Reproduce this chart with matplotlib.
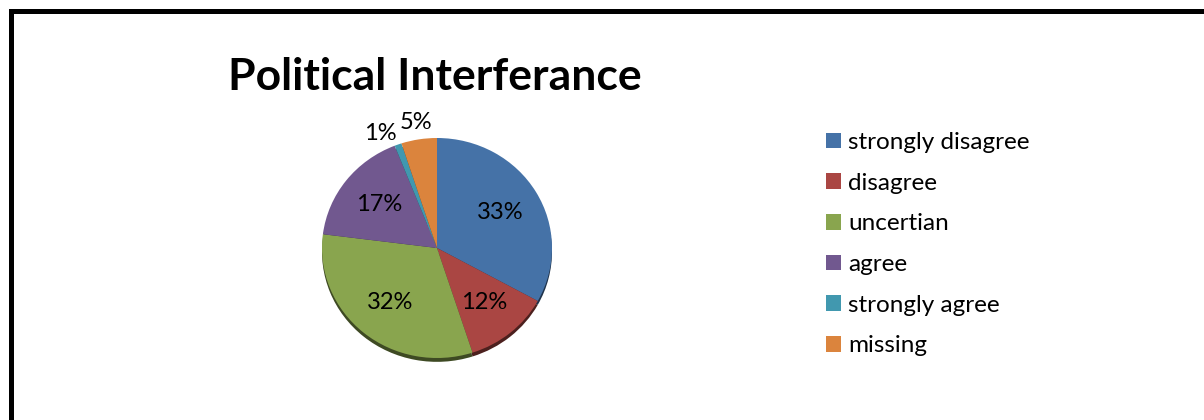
import matplotlib.pyplot as plt
import matplotlib.colors as mcolors
from matplotlib.lines import Line2D
from matplotlib.patches import Patch
import numpy as np

categories = ['strongly disagree', 'disagree', 'uncertian', 'agree', 'strongly agree', 'missing']
shares = [33, 12, 32, 17, 1, 5]
colors = ['#4572A7', '#AA4643', '#89A54E', '#71588F', '#4198AF', '#DB843D']
title = 'Political Interferance'

plt.rcParams['font.family'] = ['Lato', 'DejaVu Sans']

W, H = 1204, 420
fig = plt.figure(figsize=(W / 100, H / 100), dpi=100)

# outer frame (left and top edges only are visible in the crop)
fig.add_artist(Line2D([10.5 / W, 10.5 / W, 1.0], [0.0, 1 - 11 / H, 1 - 11 / H],
                      transform=fig.transFigure, color='black', lw=3.6,
                      solid_joinstyle='miter'))

fig.text(435 / W, 1 - 90 / H, title, ha='center', va='baseline',
         fontsize=32, fontweight='bold')

# pie, slightly squashed like the 3d chart in the original
cx, cy, rx, ry = 437, 248, 115, 110
ax = fig.add_axes([(cx - rx) / W, 1 - (cy + ry) / H, 2 * rx / W, 2 * ry / H])

shadow = [mcolors.to_hex(np.array(mcolors.to_rgb(c)) * 0.45) for c in colors]
ax.pie(shares, colors=shadow, startangle=90, counterclock=False,
       radius=1.0, center=(0, -0.035))
wedges, texts, autotexts = ax.pie(
    shares, colors=colors, startangle=90, counterclock=False, radius=1.0,
    autopct='%1.0f%%', pctdistance=0.64,
    textprops={'fontsize': 17, 'color': 'black'})
ax.set_aspect('auto')
ax.set_xlim(-1, 1)
ax.set_ylim(-1, 1)

# small slices get their labels outside
for w, t, nudge in zip(wedges, autotexts, [0, 0, 0, 0, (-0.13, -0.05), (-0.02, 0)]):
    if w.theta2 - w.theta1 < 20:
        ang = np.deg2rad((w.theta1 + w.theta2) / 2)
        t.set_position((1.06 * np.cos(ang) + nudge[0], 1.06 * np.sin(ang) + nudge[1]))
        t.set_va('bottom')
        t.set_clip_on(False)

handles = [Patch(facecolor=c, edgecolor='none') for c in colors]
fig.legend(handles, categories, loc='upper left',
           bbox_to_anchor=(826 / W, 1 - 132 / H), frameon=False,
           fontsize=17.5, handlelength=0.62, handleheight=0.62,
           handletextpad=0.29, labelspacing=0.81, borderpad=0,
           borderaxespad=0)

fig.savefig('out.png', dpi=100)
